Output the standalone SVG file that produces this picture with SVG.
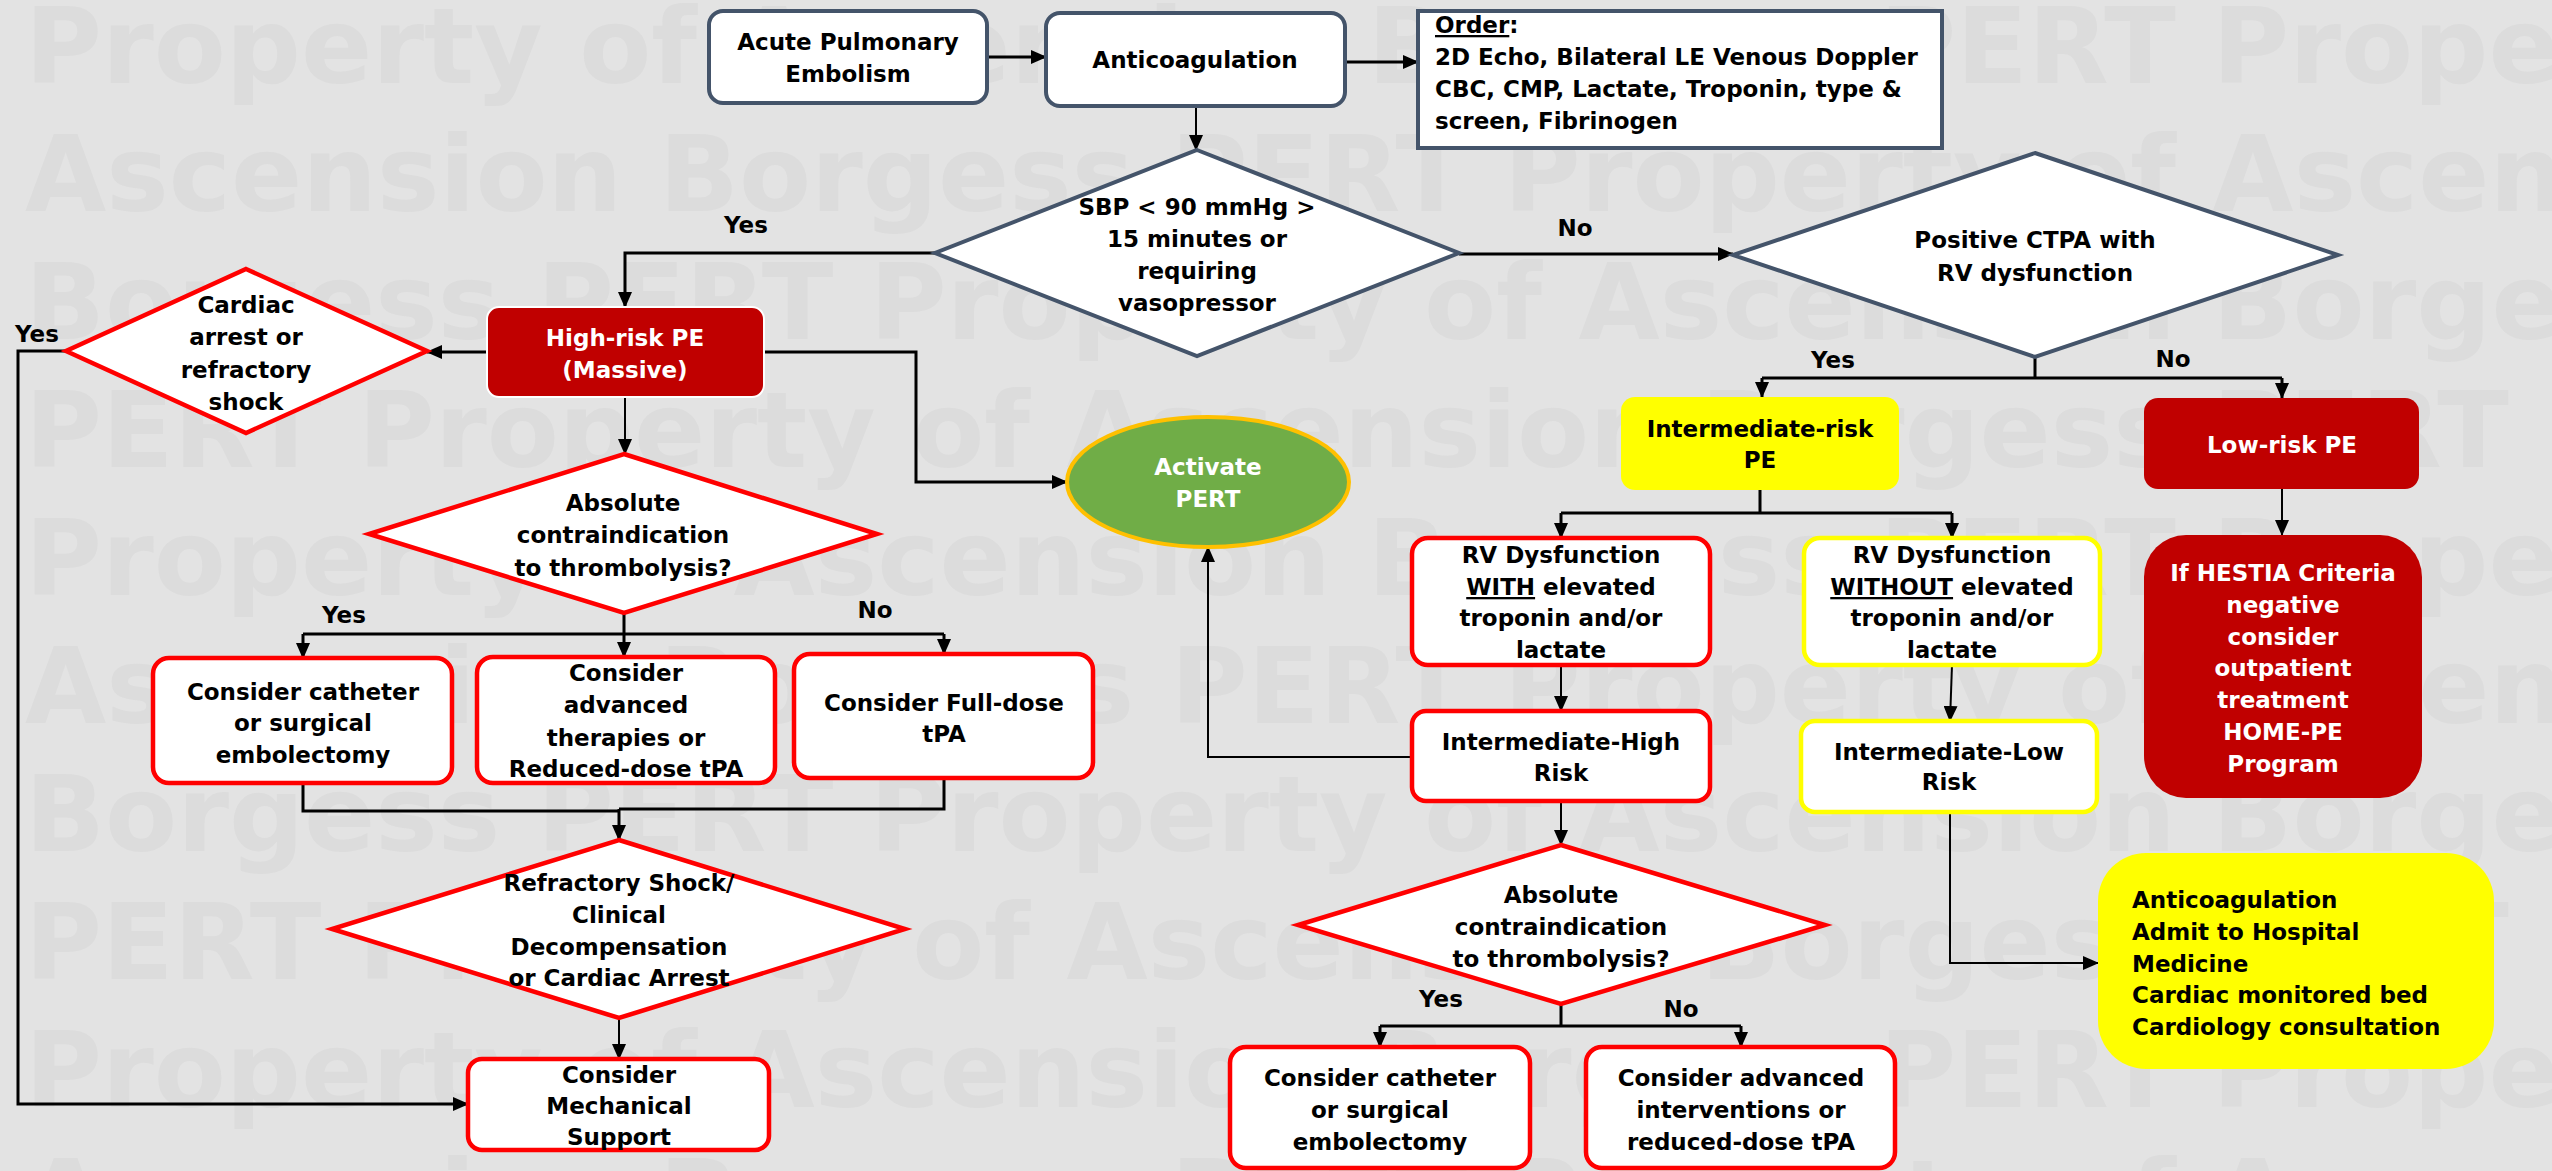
<svg xmlns="http://www.w3.org/2000/svg" width="2552" height="1171" viewBox="0 0 2552 1171">
<style>
.wm{font-family:"DejaVu Sans",sans-serif;font-weight:bold;font-size:105px;fill:#dcdcdc}
.t{font-family:"DejaVu Sans","Liberation Sans",sans-serif;font-weight:bold;font-size:23px;fill:#000;text-anchor:middle}
.w{fill:#fff}
.lft{text-anchor:start}
.dk{fill:#fff;stroke:#44546a;stroke-width:4}
.rd{fill:#fff;stroke:#ff0000;stroke-width:4.5}
.yl{fill:#fff;stroke:#ffff00;stroke-width:4.5}
.hr{fill:#c00000}
.c{fill:none;stroke:#000;stroke-width:3}
.n{fill:none;stroke:#000;stroke-width:2}
.u{text-decoration:underline}
</style>
<defs>
<marker id="ah" markerUnits="userSpaceOnUse" markerWidth="16" markerHeight="14" refX="15" refY="7" orient="auto"><path d="M0,0 L16,7 L0,14 z" fill="#000"/></marker>
</defs>
<rect x="0" y="0" width="2552" height="1171" fill="#e3e3e3"/>
<g id="watermark">
<text class="wm" x="25" y="83">Property of Ascension Borgess PERT Property of</text>
<text class="wm" x="25" y="211">Ascension Borgess PERT Property of Ascension</text>
<text class="wm" x="25" y="339">Borgess PERT Property of Ascension Borgess</text>
<text class="wm" x="25" y="467">PERT Property of Ascension Borgess PERT Property</text>
<text class="wm" x="25" y="595">Property of Ascension Borgess PERT Property of</text>
<text class="wm" x="25" y="723">Ascension Borgess PERT Property of Ascension</text>
<text class="wm" x="25" y="851">Borgess PERT Property of Ascension Borgess</text>
<text class="wm" x="25" y="979">PERT Property of Ascension Borgess PERT Property</text>
<text class="wm" x="25" y="1107">Property of Ascension Borgess PERT Property of</text>
<text class="wm" x="25" y="1235">Ascension Borgess PERT Property of Ascension</text>
</g>
<g id="connectors">
<path class="c" d="M987,57 H1046" marker-end="url(#ah)"/>
<path class="c" d="M1345,62 H1418" marker-end="url(#ah)"/>
<path class="n" d="M1196,106 V150" marker-end="url(#ah)"/>
<path class="c" d="M935,253 H625 V307" marker-end="url(#ah)"/>
<path class="c" d="M1459,254 H1733" marker-end="url(#ah)"/>
<path class="c" d="M487,352 H427" marker-end="url(#ah)"/>
<path class="c" d="M764,352 H916 V482 H1067" marker-end="url(#ah)"/>
<path class="n" d="M625,397 V454" marker-end="url(#ah)"/>
<path class="c" d="M66,351 H18 V1104 H468" marker-end="url(#ah)"/>
<path class="c" d="M624,613 V634 M303,634 H944"/>
<path class="c" d="M303,634 V658" marker-end="url(#ah)"/>
<path class="c" d="M624,634 V657" marker-end="url(#ah)"/>
<path class="c" d="M944,634 V654" marker-end="url(#ah)"/>
<path class="c" d="M303,783 V811 H619 M944,778 V809 H619"/>
<path class="c" d="M619,809 V840" marker-end="url(#ah)"/>
<path class="n" d="M619,1018 V1059" marker-end="url(#ah)"/>
<path class="c" d="M2035,357 V378 M1762,378 H2282"/>
<path class="c" d="M1762,378 V397" marker-end="url(#ah)"/>
<path class="c" d="M2282,378 V398" marker-end="url(#ah)"/>
<path class="c" d="M1760,490 V513 M1561,513 H1952"/>
<path class="c" d="M1561,513 V538" marker-end="url(#ah)"/>
<path class="c" d="M1952,513 V538" marker-end="url(#ah)"/>
<path class="n" d="M2282,489 V535" marker-end="url(#ah)"/>
<path class="n" d="M1561,665 V711" marker-end="url(#ah)"/>
<path class="n" d="M1952,665 L1950,721" marker-end="url(#ah)"/>
<path class="n" d="M1412,757 H1208 V547" marker-end="url(#ah)"/>
<path class="n" d="M1561,801 V845" marker-end="url(#ah)"/>
<path class="c" d="M1561,1004 V1026 M1380,1026 H1741"/>
<path class="c" d="M1380,1026 V1047" marker-end="url(#ah)"/>
<path class="c" d="M1741,1026 V1047" marker-end="url(#ah)"/>
<path class="n" d="M1950,812 V963 H2098" marker-end="url(#ah)"/>
<text class="t" x="746" y="233">Yes</text>
<text class="t" x="1575" y="236">No</text>
<text class="t" x="37" y="342">Yes</text>
<text class="t" x="344" y="623">Yes</text>
<text class="t" x="875" y="618">No</text>
<text class="t" x="1833" y="368">Yes</text>
<text class="t" x="2173" y="367">No</text>
<text class="t" x="1441" y="1007">Yes</text>
<text class="t" x="1681" y="1017">No</text>
</g>
<g id="n-acute"><rect class="dk" x="709" y="11" width="278" height="92" rx="14"/>
<text class="t" x="848" y="50">Acute Pulmonary</text><text class="t" x="848" y="82">Embolism</text></g>
<g id="n-anticoag"><rect class="dk" x="1046" y="13" width="299" height="93" rx="14"/>
<text class="t" x="1195" y="68">Anticoagulation</text></g>
<g id="n-order"><rect class="dk" x="1418" y="11" width="524" height="137"/>
<text class="t lft" x="1435" y="33"><tspan class="u">Order</tspan>:</text>
<text class="t lft" x="1435" y="65">2D Echo, Bilateral LE Venous Doppler</text>
<text class="t lft" x="1435" y="97">CBC, CMP, Lactate, Troponin, type &amp;</text>
<text class="t lft" x="1435" y="129">screen, Fibrinogen</text></g>
<g id="n-sbp"><polygon class="dk" points="1197,150 1459,253 1197,356 935,253"/>
<text class="t" x="1197" y="215">SBP &lt; 90 mmHg &gt;</text><text class="t" x="1197" y="247">15 minutes or</text><text class="t" x="1197" y="279">requiring</text><text class="t" x="1197" y="311">vasopressor</text></g>
<g id="n-ctpa"><polygon class="dk" points="2035,153 2338,255 2035,357 1733,255"/>
<text class="t" x="2035" y="248">Positive CTPA with</text><text class="t" x="2035" y="281">RV dysfunction</text></g>
<g id="n-highrisk"><rect class="hr" x="487" y="307" width="277" height="90" rx="12" stroke="#fff" stroke-width="2"/>
<text class="t w" x="625" y="346">High-risk PE</text><text class="t w" x="625" y="378">(Massive)</text></g>
<g id="n-cardiac"><polygon class="rd" points="246,269 427,351 246,433 66,351"/>
<text class="t" x="246" y="313">Cardiac</text><text class="t" x="246" y="345">arrest or</text><text class="t" x="246" y="378">refractory</text><text class="t" x="246" y="410">shock</text></g>
<g id="n-abs1"><polygon class="rd" points="624,454 877,534 624,613 369,534"/>
<text class="t" x="623" y="511">Absolute</text><text class="t" x="623" y="543">contraindication</text><text class="t" x="623" y="576">to thrombolysis?</text></g>
<g id="n-cath1"><rect class="rd" x="153" y="658" width="299" height="125" rx="16"/>
<text class="t" x="303" y="700">Consider catheter</text><text class="t" x="303" y="731">or surgical</text><text class="t" x="303" y="763">embolectomy</text></g>
<g id="n-adv1"><rect class="rd" x="477" y="657" width="298" height="126" rx="16"/>
<text class="t" x="626" y="681">Consider</text><text class="t" x="626" y="713">advanced</text><text class="t" x="626" y="746">therapies or</text><text class="t" x="626" y="777">Reduced-dose tPA</text></g>
<g id="n-full"><rect class="rd" x="794" y="654" width="299" height="124" rx="16"/>
<text class="t" x="944" y="711">Consider Full-dose</text><text class="t" x="944" y="742">tPA</text></g>
<g id="n-refr"><polygon class="rd" points="619,840 905,929 619,1018 332,929"/>
<text class="t" x="619" y="891">Refractory Shock/</text><text class="t" x="619" y="923">Clinical</text><text class="t" x="619" y="955">Decompensation</text><text class="t" x="619" y="986">or Cardiac Arrest</text></g>
<g id="n-mech"><rect class="rd" x="468" y="1059" width="301" height="91" rx="14"/>
<text class="t" x="619" y="1083">Consider</text><text class="t" x="619" y="1114">Mechanical</text><text class="t" x="619" y="1145">Support</text></g>
<g id="n-pert"><ellipse cx="1208" cy="482" rx="141" ry="65" fill="#70ad47" stroke="#ffc000" stroke-width="4"/>
<text class="t w" x="1208" y="475">Activate</text><text class="t w" x="1208" y="507">PERT</text></g>
<g id="n-intrisk"><rect x="1621" y="397" width="278" height="93" rx="14" fill="#ffff00"/>
<text class="t" x="1760" y="437">Intermediate-risk</text><text class="t" x="1760" y="468">PE</text></g>
<g id="n-lowrisk"><rect class="hr" x="2144" y="398" width="275" height="91" rx="14"/>
<text class="t w" x="2282" y="453">Low-risk PE</text></g>
<g id="n-rvwith"><rect class="rd" x="1412" y="538" width="298" height="127" rx="16"/>
<text class="t" x="1561" y="563">RV Dysfunction</text><text class="t" x="1561" y="595"><tspan class="u">WITH</tspan> elevated</text><text class="t" x="1561" y="626">troponin and/or</text><text class="t" x="1561" y="658">lactate</text></g>
<g id="n-rvwithout"><rect class="yl" x="1804" y="538" width="296" height="127" rx="16"/>
<text class="t" x="1952" y="563">RV Dysfunction</text><text class="t" x="1952" y="595"><tspan class="u">WITHOUT</tspan> elevated</text><text class="t" x="1952" y="626">troponin and/or</text><text class="t" x="1952" y="658">lactate</text></g>
<g id="n-hestia"><rect class="hr" x="2144" y="535" width="278" height="263" rx="42"/>
<text class="t w" x="2283" y="581">If HESTIA Criteria</text><text class="t w" x="2283" y="613">negative</text><text class="t w" x="2283" y="645">consider</text><text class="t w" x="2283" y="676">outpatient</text><text class="t w" x="2283" y="708">treatment</text><text class="t w" x="2283" y="740">HOME-PE</text><text class="t w" x="2283" y="772">Program</text></g>
<g id="n-inthigh"><rect class="rd" x="1412" y="711" width="298" height="90" rx="14"/>
<text class="t" x="1561" y="750">Intermediate-High</text><text class="t" x="1561" y="781">Risk</text></g>
<g id="n-intlow"><rect class="yl" x="1801" y="721" width="296" height="91" rx="14"/>
<text class="t" x="1949" y="760">Intermediate-Low</text><text class="t" x="1949" y="790">Risk</text></g>
<g id="n-abs2"><polygon class="rd" points="1561,845 1825,925 1561,1004 1298,925"/>
<text class="t" x="1561" y="903">Absolute</text><text class="t" x="1561" y="935">contraindication</text><text class="t" x="1561" y="967">to thrombolysis?</text></g>
<g id="n-cath2"><rect class="rd" x="1230" y="1047" width="300" height="121" rx="16"/>
<text class="t" x="1380" y="1086">Consider catheter</text><text class="t" x="1380" y="1118">or surgical</text><text class="t" x="1380" y="1150">embolectomy</text></g>
<g id="n-adv2"><rect class="rd" x="1586" y="1047" width="309" height="121" rx="16"/>
<text class="t" x="1741" y="1086">Consider advanced</text><text class="t" x="1741" y="1118">interventions or</text><text class="t" x="1741" y="1150">reduced-dose tPA</text></g>
<g id="n-admit"><rect x="2098" y="853" width="396" height="216" rx="48" fill="#ffff00"/>
<text class="t lft" x="2132" y="908">Anticoagulation</text><text class="t lft" x="2132" y="940">Admit to Hospital</text><text class="t lft" x="2132" y="972">Medicine</text><text class="t lft" x="2132" y="1003">Cardiac monitored bed</text><text class="t lft" x="2132" y="1035">Cardiology consultation</text></g>
</svg>
